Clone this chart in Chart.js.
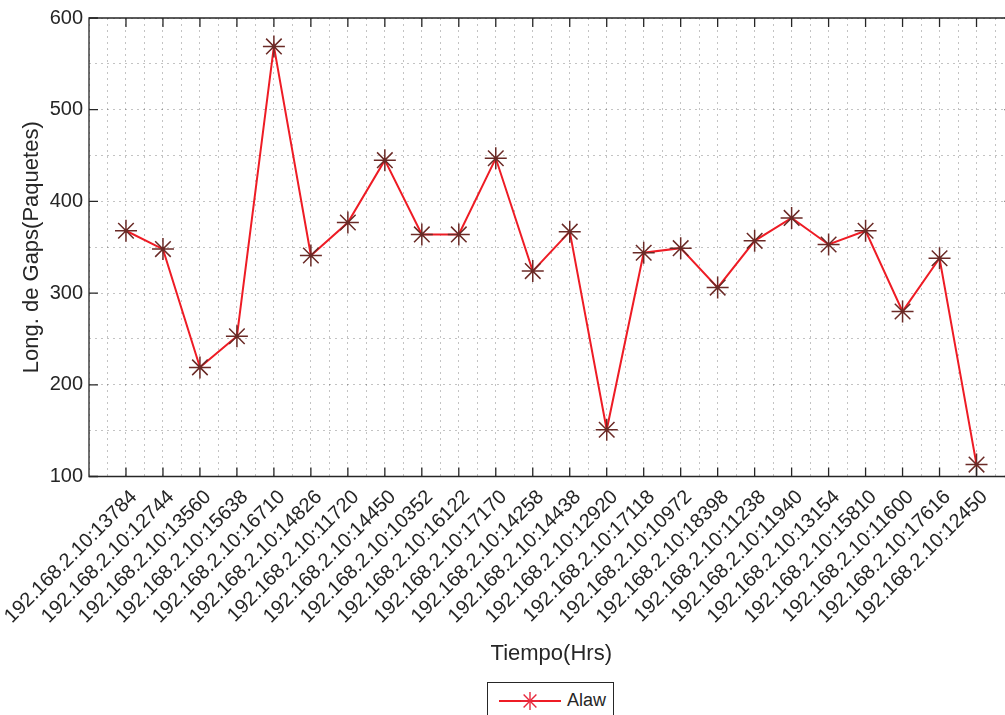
<!DOCTYPE html>
<html>
<head>
<meta charset="utf-8">
<script src="https://cdn.jsdelivr.net/npm/chart.js@4/dist/chart.umd.min.js"></script>
<style>
  html, body { margin: 0; padding: 0; overflow: hidden; background: #ffffff; }
  #wrap { position: relative; width: 1005px; height: 715px; overflow: hidden; }
  #chart { position: absolute; left: 0; top: 0; }
  #legend {
    position: absolute; left: 487px; top: 682px; width: 127px; height: 44px;
    border: 1px solid #262626; background: #ffffff; box-sizing: border-box;
    font-family: "Liberation Sans", Arial, sans-serif; font-size: 18px; color: #262626;
  }
  #legend svg { position: absolute; left: 11px; top: 7px; }
  #legend span { position: absolute; left: 79px; top: 6px; line-height: 22px; }
</style>
</head>
<body>
<div id="wrap">
  <canvas id="chart" width="1026" height="715" style="width:1026px;height:715px"></canvas>
  <div id="legend">
    <svg width="64" height="24" viewBox="0 0 64 24">
      <line x1="0" y1="11" x2="62" y2="11" stroke="#ee1c25" stroke-width="2"/>
      <g stroke="#e8283c" stroke-width="1.4">
        <line x1="31" y1="2" x2="31" y2="20"/>
        <line x1="22" y1="11" x2="40" y2="11"/>
        <line x1="24.6" y1="4.6" x2="37.4" y2="17.4"/>
        <line x1="24.6" y1="17.4" x2="37.4" y2="4.6"/>
      </g>
    </svg>
    <span>Alaw</span>
  </div>
</div>
<script>
// Flow identifiers (source host:port) along the horizontal axis
const hosts = [
  "192.168.2.10:13784", "192.168.2.10:12744", "192.168.2.10:13560", "192.168.2.10:15638",
  "192.168.2.10:16710", "192.168.2.10:14826", "192.168.2.10:11720", "192.168.2.10:14450",
  "192.168.2.10:10352", "192.168.2.10:16122", "192.168.2.10:17170", "192.168.2.10:14258",
  "192.168.2.10:14438", "192.168.2.10:12920", "192.168.2.10:17118", "192.168.2.10:10972",
  "192.168.2.10:18398", "192.168.2.10:11238", "192.168.2.10:11940", "192.168.2.10:13154",
  "192.168.2.10:15810", "192.168.2.10:11600", "192.168.2.10:17616", "192.168.2.10:12450"
];

// Gap length (packets) for the Alaw stream
const alawGaps = [368, 348, 219, 253, 569, 341, 377, 445, 364, 364, 447, 324,
                  367, 151, 344, 349, 306, 357, 382, 353, 368, 280, 338, 113];

// Labelled values on the vertical axis
const yTickLabels = [100, 200, 300, 400, 500, 600];

const seriesName = "Alaw";
const xTitle = "Tiempo(Hrs)";
const yTitle = "Long. de Gaps(Paquetes)";

const points = alawGaps.map((v, i) => ({ x: i + 1, y: v }));

const axisColor = "#262626";
const gridColor = "rgba(38,38,38,0.28)";
const fontFamily = "'Liberation Sans', Arial, sans-serif";

// Axes box with inward-pointing tick marks on all four sides
const axesBox = {
  id: "axesBox",
  afterDraw(chart) {
    const { ctx, chartArea: a, scales: { x, y } } = chart;
    const len = 9;
    ctx.save();
    ctx.strokeStyle = axisColor;
    ctx.lineWidth = 1.3;
    ctx.beginPath();
    ctx.rect(a.left, a.top, a.right - a.left, a.bottom - a.top);
    ctx.stroke();
    ctx.beginPath();
    for (let i = 1; i <= hosts.length; i++) {
      const px = x.getPixelForValue(i);
      ctx.moveTo(px, a.bottom); ctx.lineTo(px, a.bottom - len);
      ctx.moveTo(px, a.top); ctx.lineTo(px, a.top + len);
    }
    yTickLabels.forEach(v => {
      const py = y.getPixelForValue(v);
      ctx.moveTo(a.left, py); ctx.lineTo(a.left + len, py);
      ctx.moveTo(a.right, py); ctx.lineTo(a.right - len, py);
    });
    ctx.stroke();
    ctx.restore();
  }
};

new Chart(document.getElementById("chart"), {
  type: "line",
  data: {
    datasets: [{
      label: seriesName,
      data: points,
      borderColor: "#ee1c25",
      borderWidth: 2,
      tension: 0,
      fill: false,
      pointStyle: "star",
      pointRadius: 11,
      pointHoverRadius: 11,
      pointBorderWidth: 1.5,
      pointBorderColor: "#6a2a26",
      pointBackgroundColor: "#ee1c25"
    }]
  },
  options: {
    responsive: false,
    devicePixelRatio: 1,
    animation: false,
    events: [],
    layout: { padding: { top: 14, right: 7, left: 0, bottom: 0 } },
    plugins: { legend: { display: false }, tooltip: { enabled: false } },
    scales: {
      x: {
        type: "linear",
        min: 0,
        max: hosts.length + 1,
        afterFit(scale) {
          scale.height = 238.5;
          scale.paddingLeft = 0;
          scale.paddingRight = 0;
        },
        grid: { color: gridColor, lineWidth: 1, drawTicks: false },
        border: { display: false, dash: [2, 4] },
        ticks: {
          stepSize: 0.5,
          autoSkip: false,
          maxTicksLimit: 200,
          minRotation: 45,
          maxRotation: 45,
          padding: 9,
          labelOffset: 8,
          color: axisColor,
          font: { family: fontFamily, size: 20 },
          callback(v) {
            return Number.isInteger(v) && v >= 1 && v <= hosts.length ? hosts[v - 1] : "";
          }
        },
        title: {
          display: true,
          text: xTitle,
          color: axisColor,
          font: { family: fontFamily, size: 22 },
          padding: { top: 0, bottom: 48 }
        }
      },
      y: {
        type: "linear",
        min: yTickLabels[0],
        max: yTickLabels[yTickLabels.length - 1],
        afterFit(scale) { scale.width = 89; },
        grid: { color: gridColor, lineWidth: 1, drawTicks: false },
        border: { display: false, dash: [2, 4] },
        ticks: {
          stepSize: 25,
          maxTicksLimit: 200,
          padding: 6,
          color: axisColor,
          font: { family: fontFamily, size: 20 },
          callback(v) { return yTickLabels.includes(v) ? String(v) : ""; }
        },
        title: {
          display: true,
          text: yTitle,
          color: axisColor,
          font: { family: fontFamily, size: 22 },
          padding: { top: 19, bottom: 0 }
        }
      }
    }
  },
  plugins: [axesBox]
});
</script>
</body>
</html>
